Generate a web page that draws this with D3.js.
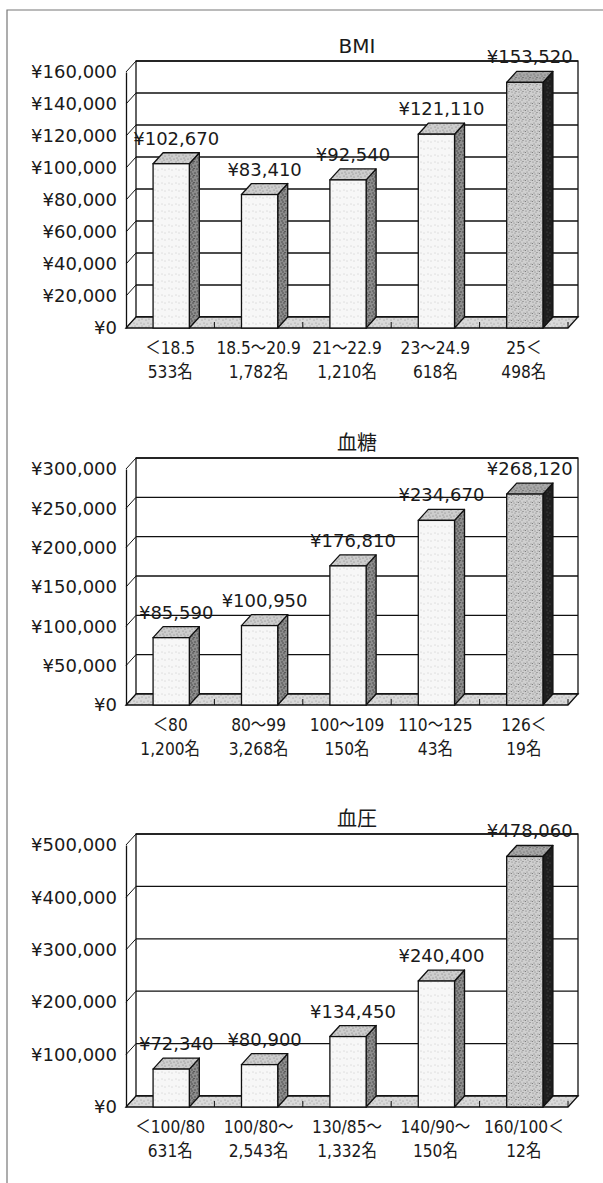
<!DOCTYPE html>
<html>
<head>
<meta charset="utf-8">
<script src="https://cdn.jsdelivr.net/npm/d3@7/dist/d3.min.js"></script>
<style>
  html, body { margin: 0; padding: 0; background: #fff; }
  svg { display: block; }
  text { font-family: "DejaVu Sans", "Noto Sans CJK JP", sans-serif; fill: #1a1a1a; }
</style>
</head>
<body>
<script>
// ---- data ----
const bmiCats = ["＜18.5", "18.5～20.9", "21～22.9", "23～24.9", "25＜"];
const bmiCounts = ["533名", "1,782名", "1,210名", "618名", "498名"];
const bmiCosts = [102670, 83410, 92540, 121110, 153520];
const bmiTicks = [0, 20000, 40000, 60000, 80000, 100000, 120000, 140000, 160000];

const sugarCats = ["＜80", "80～99", "100～109", "110～125", "126＜"];
const sugarCounts = ["1,200名", "3,268名", "150名", "43名", "19名"];
const sugarCosts = [85590, 100950, 176810, 234670, 268120];
const sugarTicks = [0, 50000, 100000, 150000, 200000, 250000, 300000];

const bpCats = ["＜100/80", "100/80～", "130/85～", "140/90～", "160/100＜"];
const bpCounts = ["631名", "2,543名", "1,332名", "150名", "12名"];
const bpCosts = [72340, 80900, 134450, 240400, 478060];
const bpTicks = [0, 100000, 200000, 300000, 400000, 500000];

// ---- layout ----
const W = 603, H = 1183;
const panels = [
  { title: "BMI", cats: bmiCats, counts: bmiCounts, values: bmiCosts, ticks: bmiTicks, top: 61, bottom: 317 },
  { title: "血糖", cats: sugarCats, counts: sugarCounts, values: sugarCosts, ticks: sugarTicks, top: 458, bottom: 694 },
  { title: "血圧", cats: bpCats, counts: bpCounts, values: bpCosts, ticks: bpTicks, top: 834, bottom: 1096 }
];
const xLeft = 126, xRight = 568;   // front plane of the plot
const dx = 10, dy = 11;             // 3D depth offset
const yen = v => "¥" + d3.format(",")(v);

const svg = d3.select("body").append("svg").attr("width", W).attr("height", H);

// stippled fills for the faces and the floor
const defs = svg.append("defs");
const dotSpots = [[1,1],[4,2],[2,4],[6,5],[3,6],[5,0.5],[0.5,5.5]];
function stipple(id, bg, dot, n, r) {
  const p = defs.append("pattern").attr("id", id)
    .attr("patternUnits", "userSpaceOnUse").attr("width", 7).attr("height", 7);
  p.append("rect").attr("width", 7).attr("height", 7).attr("fill", bg);
  dotSpots.slice(0, n).forEach(([cx, cy]) =>
    p.append("circle").attr("cx", cx).attr("cy", cy).attr("r", r).attr("fill", dot));
}
stipple("frontLight", "#f7f7f7", "#9a9a9a", 2, 0.45);
stipple("topLight", "#cdcdcd", "#777", 5, 0.6);
stipple("sideLight", "#8c8c8c", "#3a3a3a", 6, 0.7);
stipple("frontDark", "#cfcfcf", "#7a7a7a", 7, 0.6);
stipple("topDark", "#a8a8a8", "#555", 6, 0.6);
stipple("sideDark", "#1e1e1e", "#555", 3, 0.6);
stipple("floor", "#d9d9d9", "#8a8a8a", 4, 0.6);

// outer frame
svg.append("path").attr("d", `M7,${H} L7,10 L${W},10`)
  .attr("fill", "none").attr("stroke", "#777").attr("stroke-width", 1.2);

const ink = "#111", lw = 1.3;

panels.forEach(pn => {
  const floorFront = pn.bottom + dy;
  const maxV = pn.ticks[pn.ticks.length - 1];
  const y = d3.scaleLinear().domain([0, maxV]).range([floorFront, pn.top + dy]);
  const x = d3.scaleBand().domain(pn.cats).range([xLeft, xRight]);
  const bw = x.bandwidth();
  const barW = bw * 0.41;

  const g = svg.append("g");

  // back wall
  g.append("rect").attr("x", xLeft + dx).attr("y", pn.top)
    .attr("width", xRight - xLeft).attr("height", pn.bottom - pn.top)
    .attr("fill", "#fff").attr("stroke", ink).attr("stroke-width", lw);

  // gridlines on the back wall and their diagonals on the side wall
  pn.ticks.forEach(t => {
    g.append("line").attr("x1", xLeft + dx).attr("x2", xRight + dx)
      .attr("y1", y(t) - dy).attr("y2", y(t) - dy)
      .attr("stroke", ink).attr("stroke-width", lw);
    g.append("line").attr("x1", xLeft + dx).attr("y1", y(t) - dy)
      .attr("x2", xLeft).attr("y2", y(t))
      .attr("stroke", ink).attr("stroke-width", 1);
  });

  // floor
  g.append("polygon")
    .attr("points", [[xLeft, floorFront], [xRight, floorFront], [xRight + dx, pn.bottom], [xLeft + dx, pn.bottom]].join(" "))
    .attr("fill", "url(#floor)").attr("stroke", ink).attr("stroke-width", lw);

  // small category dividers on the floor
  pn.cats.forEach(c => {
    const xe = x(c) + bw;
    g.append("line").attr("x1", xe).attr("x2", xe)
      .attr("y1", floorFront).attr("y2", floorFront - 6)
      .attr("stroke", ink).attr("stroke-width", 1);
  });

  // value axis on the front edge
  const ya = g.append("g").attr("transform", `translate(${xLeft},0)`)
    .call(d3.axisLeft(y).tickValues(pn.ticks).tickSize(0).tickPadding(9).tickFormat(yen));
  ya.select(".domain").attr("stroke", ink).attr("stroke-width", lw);
  ya.selectAll("text").attr("font-size", 18).attr("font-family", null).attr("fill", "#1a1a1a");

  // bars
  pn.values.forEach((v, i) => {
    const c = pn.cats[i];
    const last = i === pn.values.length - 1;
    const bx0 = x(c) + (bw - barW) / 2 + 1;
    const bx1 = bx0 + barW;
    const yt = y(v);
    g.append("polygon")
      .attr("points", [[bx1, yt], [bx1 + dx, yt - dy], [bx1 + dx, pn.bottom], [bx1, floorFront]].join(" "))
      .attr("fill", last ? "url(#sideDark)" : "url(#sideLight)")
      .attr("stroke", ink).attr("stroke-width", lw).attr("stroke-linejoin", "round");
    g.append("polygon")
      .attr("points", [[bx0, yt], [bx1, yt], [bx1 + dx, yt - dy], [bx0 + dx, yt - dy]].join(" "))
      .attr("fill", last ? "url(#topDark)" : "url(#topLight)")
      .attr("stroke", ink).attr("stroke-width", lw).attr("stroke-linejoin", "round");
    g.append("rect").attr("x", bx0).attr("y", yt).attr("width", barW).attr("height", floorFront - yt)
      .attr("fill", last ? "url(#frontDark)" : "url(#frontLight)")
      .attr("stroke", ink).attr("stroke-width", lw);

    // value label
    g.append("text").attr("x", (bx0 + bx1) / 2 + 5).attr("y", yt - dy - 8)
      .attr("text-anchor", "middle").attr("font-size", 18).text(yen(v));
  });

  // category axis: range on the first line, head count on the second
  const xa = g.append("g").attr("transform", `translate(0,${floorFront})`)
    .call(d3.axisBottom(x).tickSize(0).tickPadding(0));
  xa.select(".domain").remove();
  xa.selectAll("text").each(function (c, i) {
    const t = d3.select(this).text(null).attr("dy", null).attr("y", 0)
      .attr("transform", "scale(0.86,1)")
      .attr("font-size", 18).attr("font-family", null).attr("fill", "#1a1a1a");
    t.append("tspan").attr("x", 0).attr("y", 26).text(c);
    t.append("tspan").attr("x", 0).attr("y", 50).text(pn.counts[i]);
  });

  // panel title
  g.append("text").attr("x", 357).attr("y", pn.top - 8)
    .attr("text-anchor", "middle").attr("font-size", 20).text(pn.title);
});
</script>
</body>
</html>
